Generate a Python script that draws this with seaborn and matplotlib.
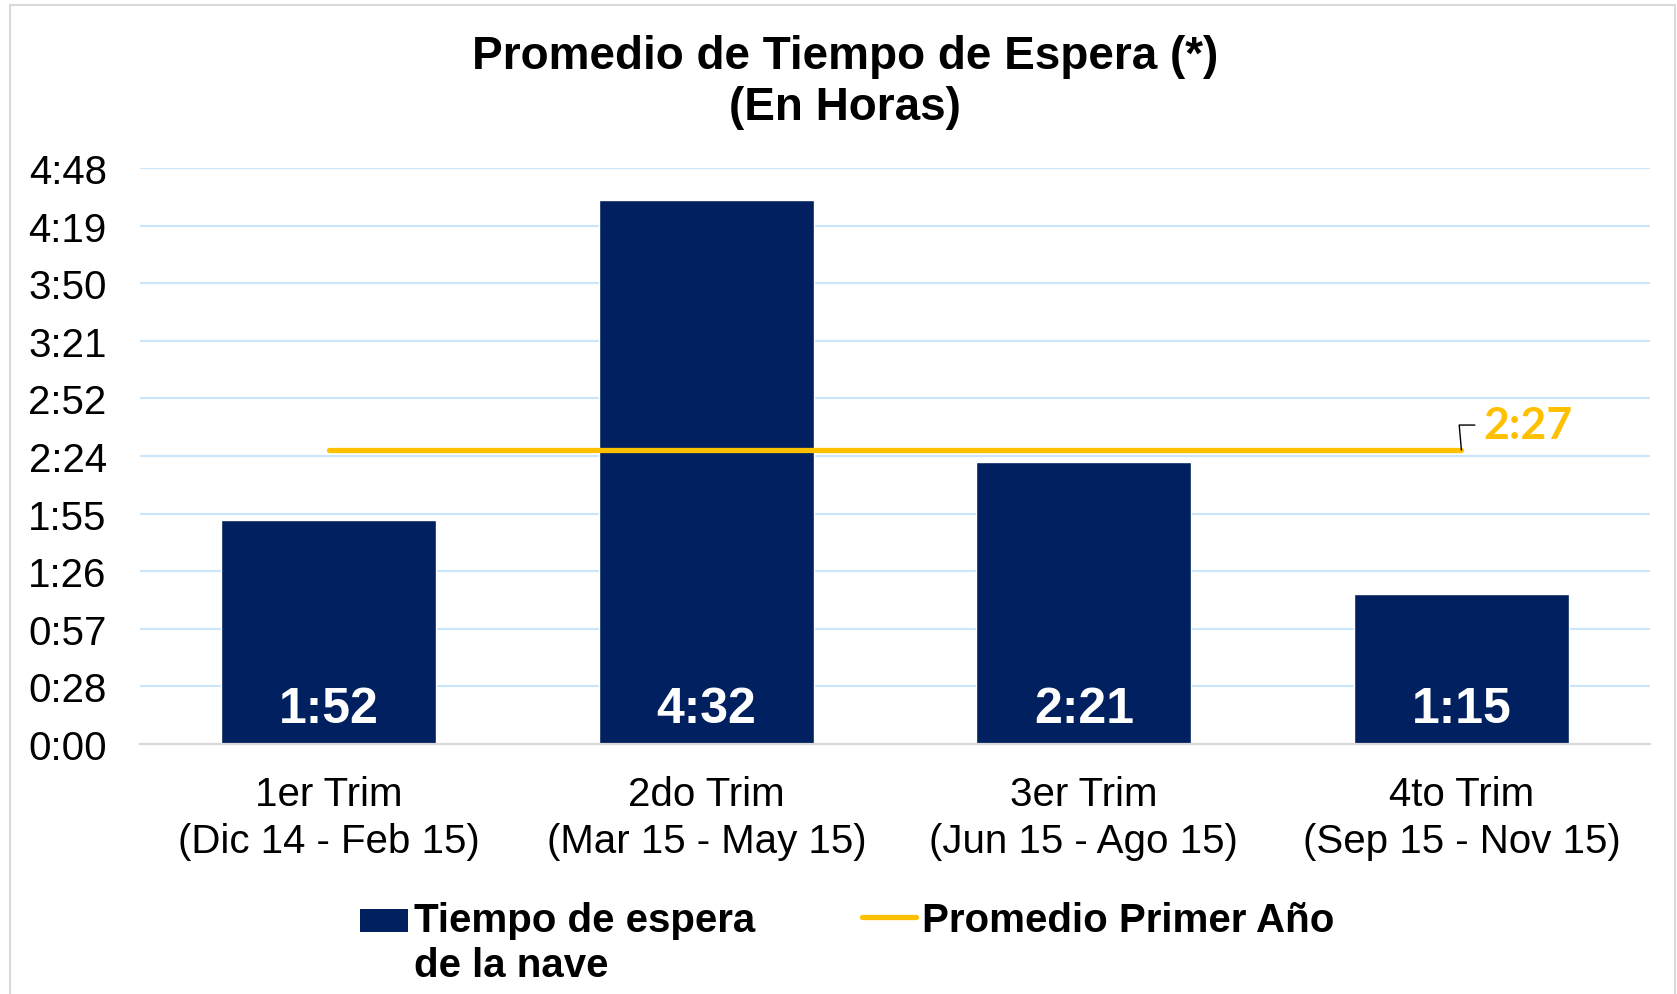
import matplotlib

matplotlib.use("Agg")
import matplotlib.pyplot as plt
import numpy as np
import pandas as pd
import seaborn as sns
from matplotlib.lines import Line2D
from matplotlib.patches import Patch, Rectangle
from matplotlib.ticker import FixedLocator, FuncFormatter


trimestres = [
    "1er Trim\n(Dic 14 - Feb 15)",
    "2do Trim\n(Mar 15 - May 15)",
    "3er Trim\n(Jun 15 - Ago 15)",
    "4to Trim\n(Sep 15 - Nov 15)",
]
espera_min = [112, 272, 141, 75]  # minutes (1:52, 4:32, 2:21, 1:15)
promedio_min = 147  # 2:27
ytick_min = [0, 28.8, 57.6, 86.4, 115.2, 144, 172.8, 201.6, 230.4, 259.2, 288]

NAVY = "#002060"
GOLD = "#FFC000"


def hmm(minutes, pos=None):
    m = int(np.floor(minutes + 1e-9))
    return f"{m // 60}:{m % 60:02d}"


sns.set_theme(style="white")
plt.rcParams["font.family"] = ["Liberation Sans", "DejaVu Sans"]
plt.rcParams["text.color"] = "black"

df = pd.DataFrame({"trimestre": trimestres, "espera": espera_min})
df_line = pd.DataFrame({"trimestre": trimestres, "promedio": [promedio_min] * len(trimestres)})

fig = plt.figure(figsize=(16.77, 9.95), dpi=100)
ax = fig.add_axes([0.0835, 0.2513, 0.9005, 0.5787])

sns.barplot(data=df, x="trimestre", y="espera", color=NAVY, saturation=1, width=0.57, ax=ax, zorder=2)
sns.lineplot(data=df_line, x="trimestre", y="promedio", color=GOLD, lw=3.8,
             solid_capstyle="round", ax=ax, zorder=3)

ax.set_xlim(-0.5, len(trimestres) - 0.5)
ax.set_ylim(0, 288)
ax.yaxis.set_major_locator(FixedLocator(ytick_min))
ax.yaxis.set_major_formatter(FuncFormatter(hmm))
ax.grid(axis="y", color="#CBE6FA", lw=1.5, zorder=0)
ax.set_axisbelow(True)
for side in ["left", "right", "top"]:
    ax.spines[side].set_visible(False)
ax.spines["bottom"].set_color("#D9D9D9")
ax.spines["bottom"].set_linewidth(1.6)
ax.tick_params(axis="y", length=0, pad=24, labelsize=29, labelcolor="black")
ax.tick_params(axis="x", length=0, pad=22, labelsize=29, labelcolor="black")
for lbl in ax.get_xticklabels():
    lbl.set_linespacing(1.3)
ax.set_xlabel("")
ax.set_ylabel("")

for i, v in enumerate(espera_min):
    ax.annotate(hmm(v), xy=(i, 0), xytext=(0, 25), textcoords="offset points",
                ha="center", va="center", color="white", fontsize=36, fontweight="bold")

ax.annotate(hmm(promedio_min), xy=(len(trimestres) - 1, promedio_min), xytext=(16, 18),
            textcoords="offset points", ha="left", va="center", color=GOLD,
            fontsize=32, fontweight="bold", family=["Lato", "DejaVu Sans"],
            arrowprops=dict(arrowstyle="-", color="black", lw=1,
                            connectionstyle="angle,angleA=180,angleB=95,rad=0",
                            shrinkA=4, shrinkB=0))

fig.text(0.504, 0.917, "Promedio de Tiempo de Espera (*)\n(En Horas)", ha="center", va="center",
         fontsize=33, fontweight="bold", linespacing=1.19)

# two legends so that both entries line up on the first text line
leg_kw = dict(loc="upper left", bbox_transform=fig.transFigure, frameon=False,
              handletextpad=0.15, borderaxespad=0, borderpad=0,
              prop={"size": 29, "weight": "bold"})
leg1 = fig.legend([Patch(facecolor=NAVY, edgecolor="none")], ["Tiempo de espera\nde la nave"],
                  bbox_to_anchor=(0.2147, 0.093), handlelength=1.2, handleheight=0.5, **leg_kw)
leg1.get_texts()[0].set_linespacing(1.22)
box = leg1.legend_handles[0]
box.set_y(box.get_y() + 16.5)

leg2 = fig.legend([Line2D([0], [0], color=GOLD, lw=3.8, solid_capstyle="round")],
                  ["Promedio Primer Año"], bbox_to_anchor=(0.514, 0.093),
                  handlelength=1.34, **leg_kw)

fig.patches.append(Rectangle((10 / 1677, -0.02), 1665 / 1677, 1.02 - 6 / 995,
                             transform=fig.transFigure, fill=False, edgecolor="#D9D9D9", lw=1.5))

fig.savefig("out.png", dpi=100)
